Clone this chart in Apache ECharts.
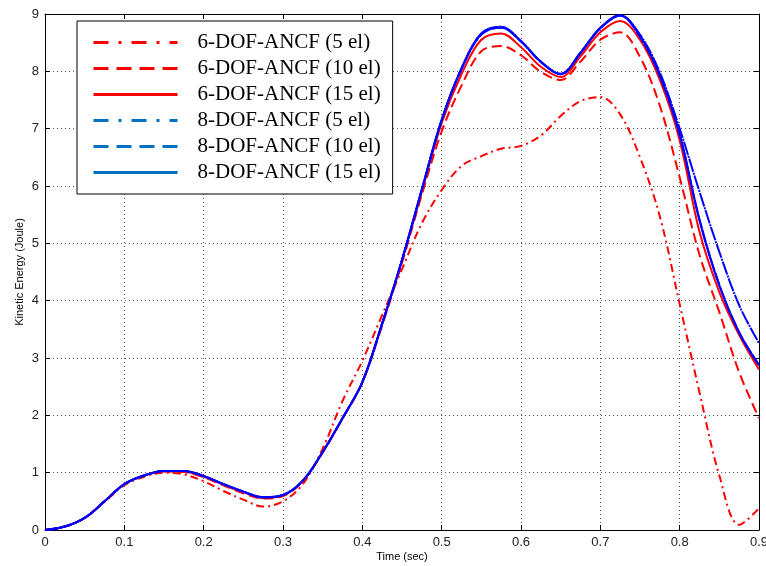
<!DOCTYPE html>
<html>
<head>
<meta charset="utf-8">
<script src="https://cdn.jsdelivr.net/npm/echarts@6/dist/echarts.min.js"></script>
<style>
  html, body { margin: 0; padding: 0; background: #fff; }
  #chart { width: 766px; height: 566px; }
</style>
</head>
<body>
<div id="chart"></div>
<script>
// Time samples (sec)
const timeSec = [0, 0.025, 0.05, 0.075, 0.1, 0.125, 0.15, 0.175, 0.2, 0.225, 0.25, 0.275,
  0.3, 0.325, 0.35, 0.375, 0.4, 0.425, 0.45, 0.475, 0.5, 0.525, 0.55, 0.575, 0.6, 0.625,
  0.65, 0.675, 0.7, 0.725, 0.75, 0.775, 0.8, 0.825, 0.85, 0.875, 0.9];

// Kinetic energy (Joule), 6-DOF ANCF beam element
const ke6dof5el = [0, 0.06, 0.21, 0.49, 0.78, 0.93, 1.0, 0.97, 0.85, 0.68, 0.53, 0.41,
  0.5, 0.8, 1.42, 2.25, 2.95, 3.75, 4.55, 5.35, 5.93, 6.35, 6.52, 6.65, 6.7, 6.88,
  7.22, 7.48, 7.55, 7.25, 6.5, 5.47, 3.94, 2.4, 0.95, 0.09, 0.38];
const ke6dof10el = [0, 0.06, 0.21, 0.5, 0.8, 0.95, 1.02, 1.01, 0.92, 0.78, 0.64, 0.55,
  0.59, 0.85, 1.35, 1.94, 2.57, 3.57, 4.66, 5.85, 6.95, 7.75, 8.35, 8.44, 8.28, 7.99,
  7.85, 8.17, 8.55, 8.68, 8.25, 7.4, 6.15, 4.8, 3.8, 2.75, 1.95];
const ke6dof15el = [0, 0.06, 0.21, 0.5, 0.8, 0.95, 1.03, 1.02, 0.93, 0.79, 0.66, 0.56,
  0.6, 0.86, 1.36, 1.95, 2.58, 3.6, 4.7, 5.9, 7.1, 7.95, 8.55, 8.66, 8.42, 8.08,
  7.9, 8.26, 8.68, 8.88, 8.55, 7.85, 6.8, 5.2, 4.15, 3.4, 2.8];

// Kinetic energy (Joule), 8-DOF ANCF beam element
const ke8dof5el = [0, 0.06, 0.21, 0.5, 0.8, 0.95, 1.03, 1.03, 0.94, 0.8, 0.67, 0.57,
  0.61, 0.86, 1.36, 1.95, 2.58, 3.6, 4.71, 5.94, 7.15, 8.05, 8.66, 8.78, 8.53, 8.17,
  7.96, 8.33, 8.76, 8.98, 8.64, 7.98, 7.0, 5.9, 4.85, 3.92, 3.26];
const ke8dof10el = [0, 0.06, 0.21, 0.5, 0.8, 0.95, 1.03, 1.03, 0.94, 0.8, 0.67, 0.57,
  0.61, 0.86, 1.36, 1.95, 2.58, 3.6, 4.71, 5.94, 7.15, 8.04, 8.64, 8.76, 8.52, 8.16,
  7.95, 8.32, 8.75, 8.97, 8.6, 7.92, 6.9, 5.42, 4.28, 3.45, 2.88];
const ke8dof15el = [0, 0.06, 0.21, 0.5, 0.8, 0.95, 1.03, 1.03, 0.94, 0.8, 0.67, 0.57,
  0.61, 0.86, 1.36, 1.95, 2.58, 3.6, 4.71, 5.94, 7.15, 8.05, 8.66, 8.77, 8.52, 8.17,
  7.95, 8.32, 8.76, 8.98, 8.62, 7.93, 6.9, 5.4, 4.26, 3.44, 2.87];

const seriesNames = ['6-DOF-ANCF (5 el)', '6-DOF-ANCF (10 el)', '6-DOF-ANCF (15 el)',
  '8-DOF-ANCF (5 el)', '8-DOF-ANCF (10 el)', '8-DOF-ANCF (15 el)'];
const xTicks = ['0', '0.1', '0.2', '0.3', '0.4', '0.5', '0.6', '0.7', '0.8', '0.9'];

const RED = '#ff0000';
const BLUE = '#0000ff';
const LEGEND_BLUE = '#0070c0';
const DASH_DOT = [8, 4, 2, 4];
const DASH = [10, 5];
const LEGEND_DASH_DOT = [15, 10, 3, 10];
const LEGEND_DASH = [15, 8];

function pairs(values) {
  return timeSec.map((t, i) => [t, values[i]]);
}

function lineSeries(name, values, color, type, width, z) {
  return {
    name: name,
    type: 'line',
    data: pairs(values),
    smooth: 0.35,
    symbol: 'none',
    z: z,
    lineStyle: { color: color, width: width, type: type },
    itemStyle: { color: color }
  };
}

function legendItem(name, color, type) {
  return {
    name: name,
    lineStyle: { color: color, width: 3, type: type },
    itemStyle: { color: color, opacity: 0, borderWidth: 0 }
  };
}

const chart = echarts.init(document.getElementById('chart'), null, { renderer: 'canvas' });

const sansFont = 'Liberation Sans, Arial, sans-serif';
const gridLine = { show: true, lineStyle: { color: '#555', width: 1, type: [1, 3] } };
const frameLine = { show: true, onZero: false, lineStyle: { color: '#000', width: 1 } };
const innerTick = { show: true, inside: true, length: 5, lineStyle: { color: '#000' } };

chart.setOption({
  animation: false,
  backgroundColor: '#fff',
  grid: { left: 45, right: 7, top: 14, bottom: 36, containLabel: false, outerBoundsMode: 'none' },
  legend: {
    orient: 'vertical',
    left: 77,
    top: 21,
    itemWidth: 84,
    itemHeight: 14,
    itemGap: 5,
    padding: [11, 12, 11, 15],
    backgroundColor: '#fff',
    borderColor: '#000',
    borderWidth: 1,
    borderRadius: 0,
    textStyle: {
      fontFamily: 'Liberation Serif, Times New Roman, serif',
      fontSize: 21,
      lineHeight: 21,
      color: '#000',
      padding: [0, 0, 0, 15]
    },
    data: [
      legendItem(seriesNames[0], RED, LEGEND_DASH_DOT),
      legendItem(seriesNames[1], RED, LEGEND_DASH),
      legendItem(seriesNames[2], RED, 'solid'),
      legendItem(seriesNames[3], LEGEND_BLUE, LEGEND_DASH_DOT),
      legendItem(seriesNames[4], LEGEND_BLUE, LEGEND_DASH),
      legendItem(seriesNames[5], LEGEND_BLUE, 'solid')
    ]
  },
  xAxis: [
    {
      type: 'value', min: 0, max: 0.9, interval: 0.1,
      name: 'Time (sec)', nameLocation: 'middle', nameGap: 21, nameMoveOverlap: false,
      nameTextStyle: { fontFamily: sansFont, fontSize: 11, color: '#000' },
      axisLine: frameLine, axisTick: innerTick, splitLine: gridLine,
      axisLabel: {
        fontFamily: sansFont, fontSize: 13, color: '#222', margin: 6,
        formatter: (v) => xTicks[Math.round(v * 10)]
      }
    },
    {
      type: 'value', position: 'top', min: 0, max: 0.9, interval: 0.1,
      axisLine: frameLine, axisTick: innerTick, splitLine: { show: false },
      axisLabel: { show: false }
    }
  ],
  yAxis: [
    {
      type: 'value', min: 0, max: 9, interval: 1,
      name: 'Kinetic Energy (Joule)', nameLocation: 'middle', nameGap: 20, nameMoveOverlap: false,
      nameTextStyle: { fontFamily: sansFont, fontSize: 11, color: '#000' },
      axisLine: frameLine, axisTick: innerTick, splitLine: gridLine,
      axisLabel: { fontFamily: sansFont, fontSize: 13, color: '#222', margin: 6 }
    },
    {
      type: 'value', position: 'right', min: 0, max: 9, interval: 1,
      axisLine: frameLine, axisTick: innerTick, splitLine: { show: false },
      axisLabel: { show: false }
    }
  ],
  series: [
    lineSeries(seriesNames[0], ke6dof5el, RED, DASH_DOT, 2, 3),
    lineSeries(seriesNames[1], ke6dof10el, RED, DASH, 2, 3),
    lineSeries(seriesNames[2], ke6dof15el, RED, 'solid', 2, 4),
    lineSeries(seriesNames[3], ke8dof5el, BLUE, [14, 1, 2, 1], 2, 5),
    lineSeries(seriesNames[4], ke8dof10el, BLUE, [14, 1], 2, 5),
    lineSeries(seriesNames[5], ke8dof15el, BLUE, 'solid', 2, 6)
  ]
});
</script>
</body>
</html>
